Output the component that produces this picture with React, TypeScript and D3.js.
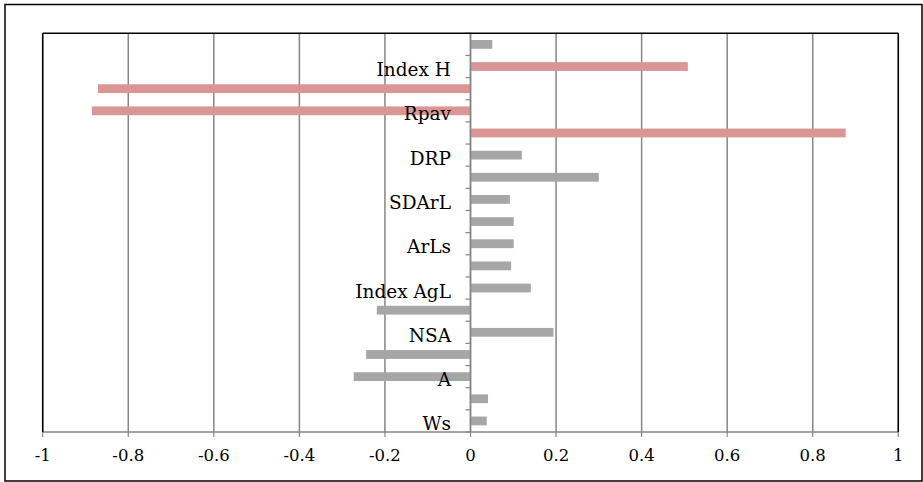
import React from "react";
import * as d3 from "d3";

// categories from top to bottom (only every other one is labelled on the axis)
const categories = [
  "c18", "Index H", "c16", "Rpav", "c14", "DRP", "c12", "SDArL", "c10",
  "ArLs", "c8", "Index AgL", "c6", "NSA", "c4", "A", "c2", "Ws",
];
const shownLabels = [false, true, false, true, false, true, false, true, false, true, false, true, false, true, false, true, false, true];
const values = [
  0.051, 0.508, -0.871, -0.885, 0.877, 0.12, 0.30, 0.092, 0.101,
  0.101, 0.095, 0.141, -0.219, 0.194, -0.244, -0.273, 0.041, 0.038,
];
const highlighted = [false, true, true, true, true, false, false, false, false, false, false, false, false, false, false, false, false, false];
const xTicks = [-1, -0.8, -0.6, -0.4, -0.2, 0, 0.2, 0.4, 0.6, 0.8, 1];

const W = 923;
const H = 482;
const plot = { left: 42.7, right: 898.3, top: 33.3, bottom: 432 };
const RED = "#D99694";
const GRAY = "#A6A6A6";
const GRID = "#868686";
const FONT = "'DejaVu Serif', serif";

export default function App() {
  const x = d3.scaleLinear().domain([-1, 1]).range([plot.left, plot.right]);
  const y = d3
    .scaleBand<number>()
    .domain(d3.range(categories.length))
    .range([plot.top, plot.bottom])
    .paddingInner(0)
    .paddingOuter(0);
  const bw = y.bandwidth();
  const barH = 8.8;
  const x0 = x(0);

  return (
    <svg
      width={W}
      height={H}
      style={{ position: "absolute", left: 0, top: 0, background: "#fff" }}
    >
      <rect x={5} y={4.5} width={917} height={476.5} fill="#fff" stroke="#000" strokeWidth={1.5} />
      {/* gridlines */}
      {xTicks.map((t) => (
        <line key={"g" + t} x1={x(t)} x2={x(t)} y1={plot.top} y2={plot.bottom} stroke={GRID} strokeWidth={1.5} />
      ))}
      {/* bars */}
      {values.map((v, i) => (
        <rect
          key={"b" + i}
          x={Math.min(x(v), x0)}
          width={Math.abs(x(v) - x0)}
          y={(y(i) as number) + bw / 2 - barH / 2}
          height={barH}
          fill={highlighted[i] ? RED : GRAY}
        />
      ))}
      {/* category axis at zero */}
      <line x1={x0} x2={x0} y1={plot.top} y2={plot.bottom} stroke={GRID} strokeWidth={1.5} />
      {d3.range(categories.length + 1).map((i) => {
        const yy = plot.top + i * bw;
        return <line key={"t" + i} x1={x0 - 5} x2={x0} y1={yy} y2={yy} stroke={GRID} strokeWidth={1.2} />;
      })}
      {categories.map((c, i) =>
        shownLabels[i] ? (
          <text
            key={"l" + c}
            x={x0 - 19.5}
            y={(y(i) as number) + bw / 2 + 9.5}
            textAnchor="end"
            fontFamily={FONT}
            fontSize={18.5}
            fill="#000"
          >
            {c}
          </text>
        ) : null
      )}
      {/* value axis */}
      <line x1={plot.left} x2={plot.right} y1={plot.bottom} y2={plot.bottom} stroke={GRID} strokeWidth={1.5} />
      {xTicks.map((t) => (
        <g key={"xt" + t}>
          <line x1={x(t)} x2={x(t)} y1={plot.bottom} y2={plot.bottom + 5} stroke={GRID} strokeWidth={1.2} />
          <text x={x(t)} y={460.5} textAnchor="middle" fontFamily={FONT} fontSize={16.5} fill="#000">
            {String(t)}
          </text>
        </g>
      ))}
      {/* plot border */}
      <line x1={plot.left} x2={plot.left} y1={plot.top} y2={plot.bottom} stroke="#000" strokeWidth={1.5} />
      <line x1={plot.right} x2={plot.right} y1={plot.top} y2={plot.bottom} stroke="#000" strokeWidth={1.5} />
      <line x1={plot.left} x2={plot.right} y1={plot.top} y2={plot.top} stroke="#000" strokeWidth={1.5} />
    </svg>
  );
}
